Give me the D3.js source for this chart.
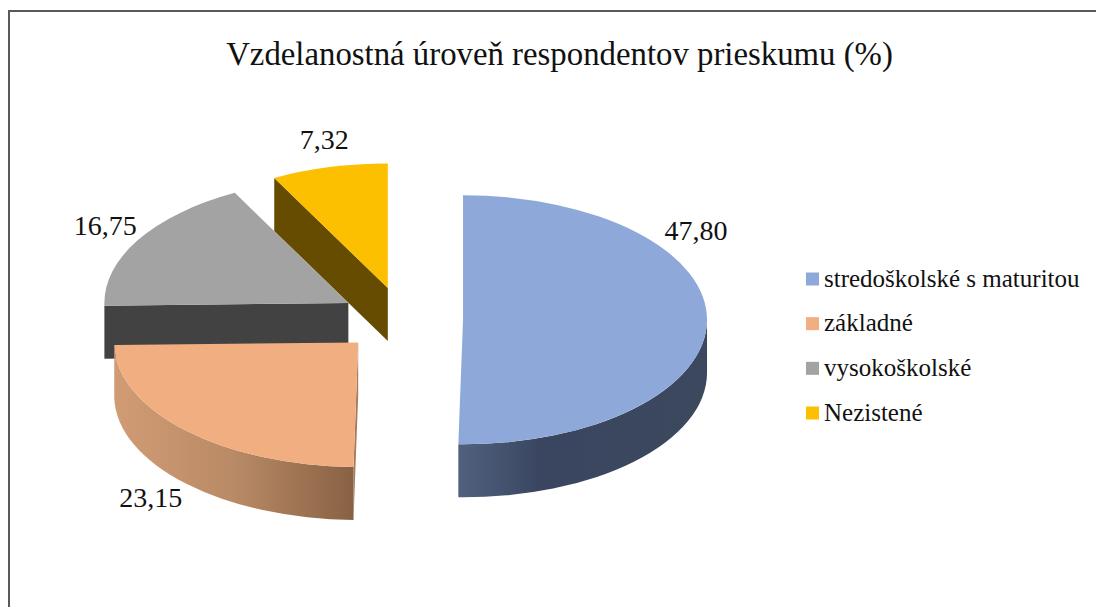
<!DOCTYPE html>
<html>
<head>
<meta charset="utf-8">
<script src="https://cdn.jsdelivr.net/npm/d3@7"></script>
<style>
  html,body{margin:0;padding:0;background:#fff;overflow:hidden}
  text{font-family:"Liberation Serif","Times New Roman",serif;fill:#111}
</style>
</head>
<body>
<svg id="chart" width="1096" height="607"></svg>
<script>
const title = "Vzdelanostná úroveň respondentov prieskumu (%)";
const categories = ["stredoškolské s maturitou","základné","vysokoškolské","Nezistené"];
const values = [47.80,23.15,16.75,7.32];
const value_labels = ["47,80","23,15","16,75","7,32"];
const top_color = ["#8ea9d9","#f1ae80","#a3a3a3","#fcc000"];
const side_color = ["#3b485d","#a87c5b","#424242","#654c00"];
const explode = [0.246,0.26,0.26,0.26];
// label shift from the rim midpoint of each slice
const label_shift = [[-11,-81],[-35,76],[-33,-5],[-5,-18]];

const cx=403, cy=319.5, rx=244, ry=124.5, depth=53;
const squash = ry/rx;

const svg = d3.select("#chart");

const defs = svg.append("defs");
function wallGradient(id,stops){
  defs.append("linearGradient").attr("id",id)
      .selectAll("stop").data(stops).enter().append("stop")
      .attr("offset",d=>d[0]).attr("stop-color",d=>d[1]);
}
wallGradient("wall0",[[0,"#50617f"],[0.33,"#3a4660"],[1,"#3b485d"]]);
wallGradient("wall1",[[0,"#d19c74"],[0.5,"#b98a66"],[1,"#886144"]]);

// frame runs off the right and bottom of the picture
svg.append("rect").attr("x",9).attr("y",11).attr("width",1200).attr("height",800)
   .attr("fill","none").attr("stroke","#595959").attr("stroke-width",2);

svg.append("text").attr("x",559.5).attr("y",65).attr("text-anchor","middle")
   .style("font-size","32.8px").text(title);

const pie = d3.pie().sort(null).value(d=>d);
const arcs = pie(values).map((d,i)=>{
  const mid=(d.startAngle+d.endAngle)/2;
  return {...d,i,mid,
    x:cx+explode[i]*rx*Math.sin(mid),
    y:cy-explode[i]*ry*Math.cos(mid)};
});

const topArc = d3.arc().innerRadius(0).outerRadius(rx);
const scaledDepth = depth/squash;

// outer wall, only the part that faces the viewer
function wallPath(a0,a1){
  const p=d3.path();
  const s=Math.max(a0,Math.PI/2), e=Math.min(a1,Math.PI*1.5);
  if(s>=e) return null;
  p.moveTo(rx*Math.sin(s),-rx*Math.cos(s));
  p.arc(0,0,rx,s-Math.PI/2,e-Math.PI/2,false);
  p.lineTo(rx*Math.sin(e),-rx*Math.cos(e)+scaledDepth);
  p.arc(0,scaledDepth,rx,e-Math.PI/2,s-Math.PI/2,true);
  p.closePath();
  return p.toString();
}
// radial cut face at angle a
function facePath(a){
  const p=d3.path();
  p.moveTo(0,0);
  p.lineTo(rx*Math.sin(a),-rx*Math.cos(a));
  p.lineTo(rx*Math.sin(a),-rx*Math.cos(a)+scaledDepth);
  p.lineTo(0,scaledDepth);
  p.closePath();
  return p.toString();
}

// back slices first
const drawOrder=[2,3,1,0];
drawOrder.forEach(i=>{
  const d=arcs[i];
  const g=svg.append("g").attr("transform",`translate(${d.x},${d.y}) scale(1,${squash})`);
  if(Math.sin(d.startAngle)<0)
    g.append("path").attr("d",facePath(d.startAngle)).attr("fill",side_color[i]);
  const w=wallPath(d.startAngle,d.endAngle);
  if(w) g.append("path").attr("d",w).attr("fill",i<2?`url(#wall${i})`:side_color[i]);
  g.append("path").attr("d",topArc(d)).attr("fill",top_color[i]);
});

svg.append("g").selectAll("text").data(arcs).enter().append("text")
   .attr("x",d=>d.x+rx*Math.sin(d.mid)+label_shift[d.i][0])
   .attr("y",d=>d.y-ry*Math.cos(d.mid)+label_shift[d.i][1])
   .attr("text-anchor","middle")
   .style("font-size","28px")
   .text(d=>value_labels[d.i]);

const legendY = d3.scalePoint().domain(categories).range([279,413]);
const legend = svg.append("g").selectAll("g").data(categories).enter().append("g")
   .attr("transform",d=>`translate(806,${legendY(d)})`);
legend.append("rect").attr("x",0).attr("y",-6.5).attr("width",13).attr("height",13)
   .attr("fill",(d,i)=>top_color[i]);
legend.append("text").attr("x",18).attr("y",7.5)
   .style("font-size","25px").text(d=>d);
</script>
</body>
</html>
